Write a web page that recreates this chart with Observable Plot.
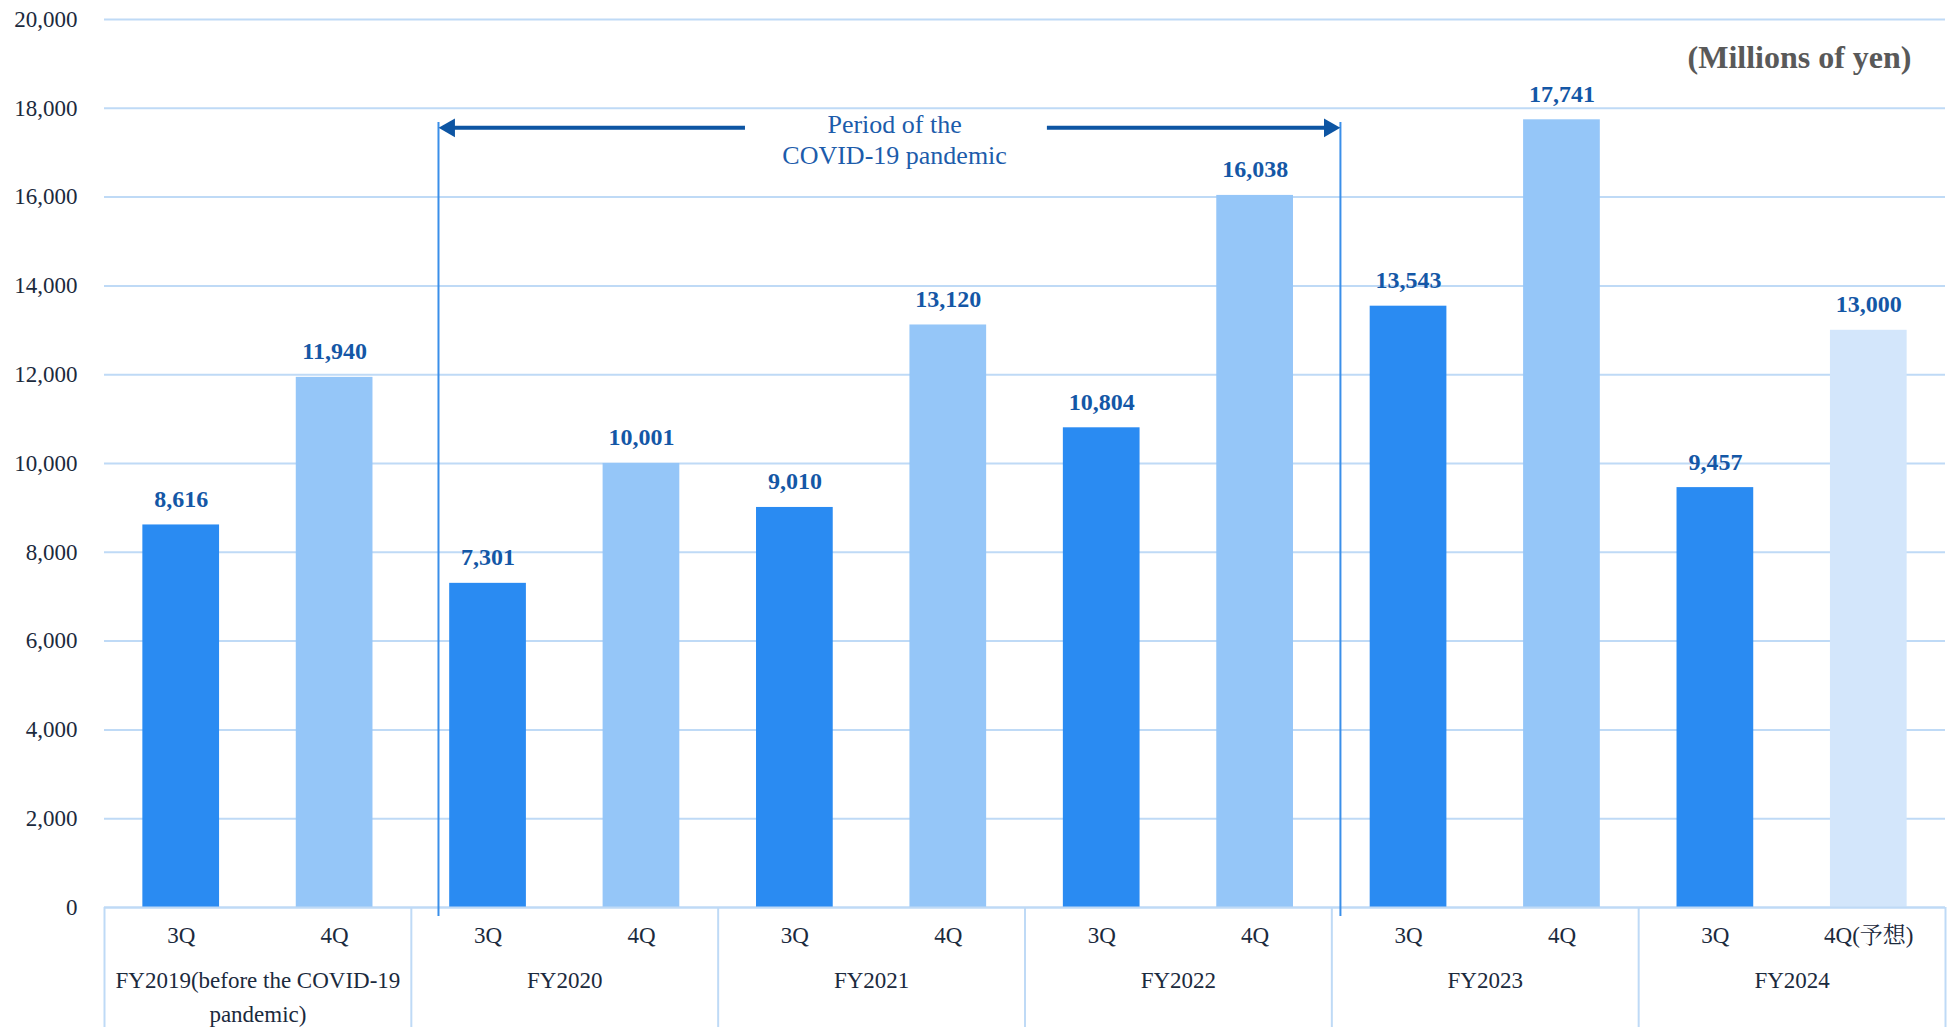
<!DOCTYPE html>
<html><head><meta charset="utf-8">
<script src="https://cdn.jsdelivr.net/npm/d3@7"></script>
<script src="https://cdn.jsdelivr.net/npm/@observablehq/plot@0.6"></script>
<style>
html,body{margin:0;padding:0;background:#fff;}
#chart{width:1948px;height:1027px;overflow:hidden}
</style></head><body><div id="chart"></div>
<script>
// ---- data ----
const fiscalYears = ["FY2019(before the COVID-19\npandemic)", "FY2020", "FY2021", "FY2022", "FY2023", "FY2024"];
const quarters = ["3Q", "4Q", "3Q", "4Q", "3Q", "4Q", "3Q", "4Q", "3Q", "4Q", "3Q", "4Q(予想)"];
const sales = [8616, 11940, 7301, 10001, 9010, 13120, 10804, 16038, 13543, 17741, 9457, 13000];
const barKind = ["3Q", "4Q", "3Q", "4Q", "3Q", "4Q", "3Q", "4Q", "3Q", "4Q", "3Q", "forecast"];
const yTicks = [0, 2000, 4000, 6000, 8000, 10000, 12000, 14000, 16000, 18000, 20000];
const unitLabel = "(Millions of yen)";
const covidLabel = "Period of the\nCOVID-19 pandemic";
// annotation anchors, in bar-slot units (x) and data units (y)
const covidStart = 1.677, covidEnd = 7.556;
const covidTextX = 4.65, covidTextY = 17320;
const arrowY = 17560, arrowLeftFrom = 3.678, arrowRightFrom = 5.646;
const covidLineTop = 17680, covidLineBottom = -200;

// ---- layout / style ----
const W = 1948, H = 1027, mT = 19, mB = 120, mL = 104, mR = 3;
const colors = {"3Q": "#2a8bf2", "4Q": "#95c6f8", "forecast": "#d3e6fb"};
const gridColor = "#bfdaf6";
const navy = "#1b2a3d";
const labelBlue = "#1457a6";
const arrowBlue = "#0d55a3";
const lineBlue = "#3a8fe9";
const fontFamily = '"Liberation Serif", "Times New Roman", "Noto Serif CJK JP", "Noto Sans CJK JP", serif';

const data = sales.map((v, i) => ({i, v, q: quarters[i], kind: barKind[i]}));
const groupBounds = d3.range(fiscalYears.length + 1).map(g => 2 * g - 0.5);

const chart = Plot.plot({
  width: W, height: H,
  marginTop: mT, marginBottom: mB, marginLeft: mL, marginRight: mR,
  style: {fontFamily, fontSize: "23px", color: navy, background: "#fff", overflow: "visible"},
  x: {type: "linear", domain: [-0.5, sales.length - 0.5]},
  y: {domain: [0, 20000]},
  color: {domain: Object.keys(colors), range: Object.values(colors)},
  marks: [
    Plot.gridY(yTicks, {stroke: gridColor, strokeOpacity: 1, strokeWidth: 2}),
    Plot.rect(data, {x1: d => d.i - 0.25, x2: d => d.i + 0.25, y1: 0, y2: "v", fill: "kind"}),
    Plot.ruleY([0], {stroke: gridColor, strokeWidth: 2}),
    Plot.ruleX(groupBounds, {x: d => d, insetTop: H - mT - mB, insetBottom: -mB, stroke: gridColor, strokeWidth: 2}),
    Plot.axisY({ticks: yTicks, tickSize: 0, tickPadding: 27, tickFormat: d3.format(","), label: null, fill: navy}),
    Plot.axisX({ticks: d3.range(sales.length), tickFormat: i => quarters[i], tickSize: 0, tickPadding: 19, label: null, fill: navy}),
    Plot.text(fiscalYears, {x: (d, g) => 2 * g + 0.5, frameAnchor: "bottom", lineAnchor: "top", dy: 57, lineHeight: 1.46, fill: navy}),
    Plot.text(data, {x: "i", y: "v", text: d => d3.format(",")(d.v), lineAnchor: "bottom", dy: -18, fill: labelBlue, fontWeight: "bold", fontSize: 24}),
    Plot.text([unitLabel], {frameAnchor: "top-right", textAnchor: "end", lineAnchor: "middle", dx: -34, dy: 38, fontSize: 32, fontWeight: "bold", fill: "#595959"}),
    // COVID period annotation
    Plot.ruleX([covidStart, covidEnd], {x: d => d, y1: covidLineBottom, y2: covidLineTop, stroke: lineBlue, strokeWidth: 2}),
    Plot.ruleY([arrowY], {x1: covidStart, x2: arrowLeftFrom, insetLeft: 10, stroke: arrowBlue, strokeWidth: 4}),
    Plot.ruleY([arrowY], {x1: arrowRightFrom, x2: covidEnd, insetRight: 10, stroke: arrowBlue, strokeWidth: 4}),
    Plot.dot([covidStart], {x: d => d, y: arrowY, symbol: "triangle", r: 7, fill: arrowBlue, stroke: "none", rotate: -90, dx: 11}),
    Plot.dot([covidEnd], {x: d => d, y: arrowY, symbol: "triangle", r: 7, fill: arrowBlue, stroke: "none", rotate: 90, dx: -11}),
    Plot.text([covidLabel], {x: covidTextX, y: covidTextY, lineAnchor: "middle", lineHeight: 1.19, fontSize: 26, fill: "#1c5cab"})
  ]
});
document.getElementById("chart").appendChild(chart);
</script>
</body></html>
